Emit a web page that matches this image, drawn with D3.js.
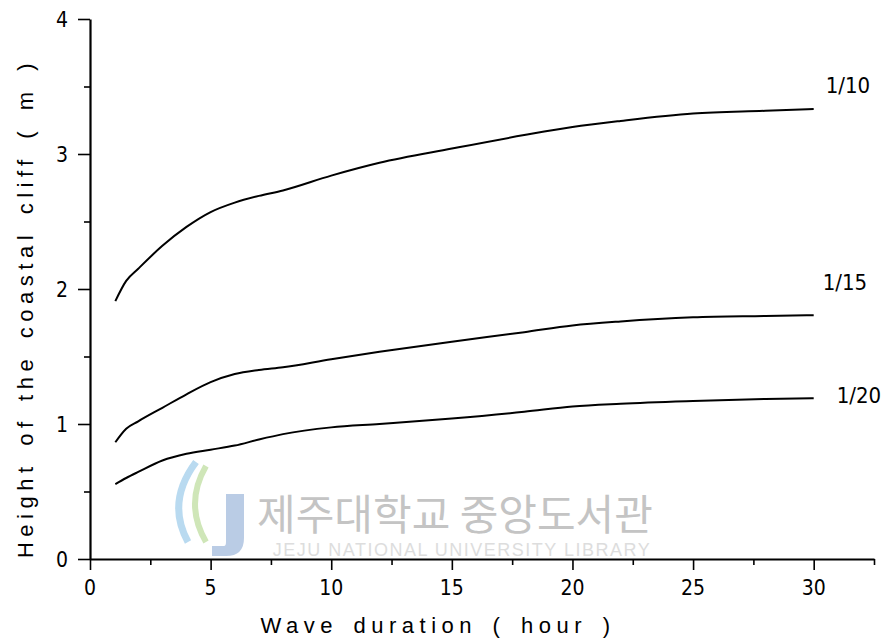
<!DOCTYPE html>
<html>
<head>
<meta charset="utf-8">
<script src="https://cdn.jsdelivr.net/npm/d3@7/dist/d3.min.js"></script>
<style>
  html, body { margin: 0; padding: 0; background: #fff; }
  svg { display: block; }
  .tick-label { font-family: "Liberation Sans Narrow", "DejaVu Sans Condensed", "Liberation Sans", sans-serif; font-size: 21px; fill: #000; }
  .axis-title { font-family: "Liberation Sans", Arial, sans-serif; font-size: 22px; fill: #000; letter-spacing: 5.5px; word-spacing: 4px; }
  .series-label { font-family: "Liberation Sans Narrow", "DejaVu Sans Condensed", sans-serif; font-size: 22px; fill: #000; }
</style>
</head>
<body>
<div id="chart"></div>
<script>
// wave duration (hour)
const durations = [1.05, 1.5, 2, 3, 4, 5, 6, 7, 8, 10, 12, 15, 18, 20, 22, 25, 28, 30];
// cliff height (m) per slope
const slope10 = [1.91, 2.06, 2.15, 2.32, 2.46, 2.57, 2.64, 2.69, 2.73, 2.84, 2.935, 3.04, 3.14, 3.20, 3.245, 3.30, 3.32, 3.333];
const slope15 = [0.865, 0.965, 1.02, 1.12, 1.22, 1.31, 1.37, 1.40, 1.42, 1.48, 1.535, 1.61, 1.68, 1.73, 1.76, 1.79, 1.80, 1.806];
const slope20 = [0.555, 0.60, 0.645, 0.73, 0.78, 0.81, 0.84, 0.885, 0.925, 0.975, 1.00, 1.04, 1.09, 1.13, 1.15, 1.17, 1.185, 1.19];
const seriesNames = ['1/10', '1/15', '1/20'];
const xTicks = [0, 5, 10, 15, 20, 25, 30];
const yTicks = [0, 1, 2, 3, 4];

const width = 890, height = 642;
const svg = d3.select('#chart').append('svg')
  .attr('width', width)
  .attr('height', height);

const x = d3.scaleLinear().domain([0, 32.5]).range([90, 874]);
const y = d3.scaleLinear().domain([0, 4]).range([559, 19]);

// faint library watermark
const wm = svg.append('g').attr('class', 'watermark');
wm.append('path')
  .attr('d', 'M226,494 h18 v44 q0,18 -18,18 h-14 v-10 h12 q2,0 2,-4 z')
  .attr('fill', '#a9bfdf').attr('opacity', 0.8);
wm.append('path')
  .attr('d', 'M196,462 q-30,40 -8,80')
  .attr('fill', 'none').attr('stroke', '#b9daf0').attr('stroke-width', 7);
wm.append('path')
  .attr('d', 'M206,466 q-22,38 0,76')
  .attr('fill', 'none').attr('stroke', '#cfe6b8').attr('stroke-width', 6);
wm.append('text')
  .attr('x', 455).attr('y', 530)
  .attr('text-anchor', 'middle')
  .style('font-family', '"Noto Sans CJK KR", sans-serif')
  .style('font-size', '42px')
  .style('fill', '#c4c4c4')
  .text('제주대학교 중앙도서관');
wm.append('text')
  .attr('x', 462).attr('y', 556)
  .attr('text-anchor', 'middle')
  .style('font-family', '"Liberation Sans", sans-serif')
  .style('font-size', '18px')
  .style('letter-spacing', '1.5px')
  .style('fill', '#dddddd')
  .text('JEJU NATIONAL UNIVERSITY LIBRARY');

// axes
const xAxis = d3.axisBottom(x)
  .tickValues(d3.range(0, 32.6, 2.5))
  .tickSize(0)
  .tickFormat('');
const gx = svg.append('g').attr('transform', `translate(0,${y(0)})`).call(xAxis);
gx.select('.domain').attr('stroke', '#000').attr('stroke-width', 2.2);
gx.selectAll('.tick line')
  .attr('stroke', '#000').attr('stroke-width', 1.6)
  .attr('y2', d => (d % 5 === 0 ? 11 : 6));

const yAxis = d3.axisLeft(y)
  .tickValues(d3.range(0, 4.01, 0.5))
  .tickSize(0)
  .tickFormat('');
const gy = svg.append('g').attr('transform', `translate(${x(0)},0)`).call(yAxis);
gy.select('.domain').attr('stroke', '#000').attr('stroke-width', 2.2);
gy.selectAll('.tick line')
  .attr('stroke', '#000').attr('stroke-width', 1.6)
  .attr('x2', d => (d % 1 === 0 ? -12 : -6));

svg.append('g').selectAll('text')
  .data(xTicks)
  .join('text')
  .attr('class', 'tick-label')
  .attr('x', d => x(d))
  .attr('y', 595)
  .attr('text-anchor', 'middle')
  .text(d => d);

svg.append('g').selectAll('text')
  .data(yTicks)
  .join('text')
  .attr('class', 'tick-label')
  .attr('x', 62)
  .attr('y', d => y(d) + 8)
  .attr('text-anchor', 'middle')
  .text(d => d);

svg.append('text')
  .attr('class', 'axis-title')
  .attr('x', 438).attr('y', 633)
  .attr('text-anchor', 'middle')
  .text('Wave duration ( hour )');

svg.append('text')
  .attr('class', 'axis-title')
  .attr('transform', 'translate(33,308) rotate(-90)')
  .attr('text-anchor', 'middle')
  .text('Height of the coastal cliff ( m )');

// curves
const line = d3.line()
  .x(d => x(d[0]))
  .y(d => y(d[1]))
  .curve(d3.curveMonotoneX);

const series = [slope10, slope15, slope20];
series.forEach(vals => {
  svg.append('path')
    .datum(durations.map((t, i) => [t, vals[i]]))
    .attr('d', line)
    .attr('fill', 'none')
    .attr('stroke', '#000')
    .attr('stroke-width', 2);
});

const labelPos = [[848, 93], [845, 290], [859, 403]];
svg.append('g').selectAll('text')
  .data(seriesNames)
  .join('text')
  .attr('class', 'series-label')
  .attr('x', (d, i) => labelPos[i][0])
  .attr('y', (d, i) => labelPos[i][1])
  .attr('text-anchor', 'middle')
  .text(d => d);
</script>
</body>
</html>
